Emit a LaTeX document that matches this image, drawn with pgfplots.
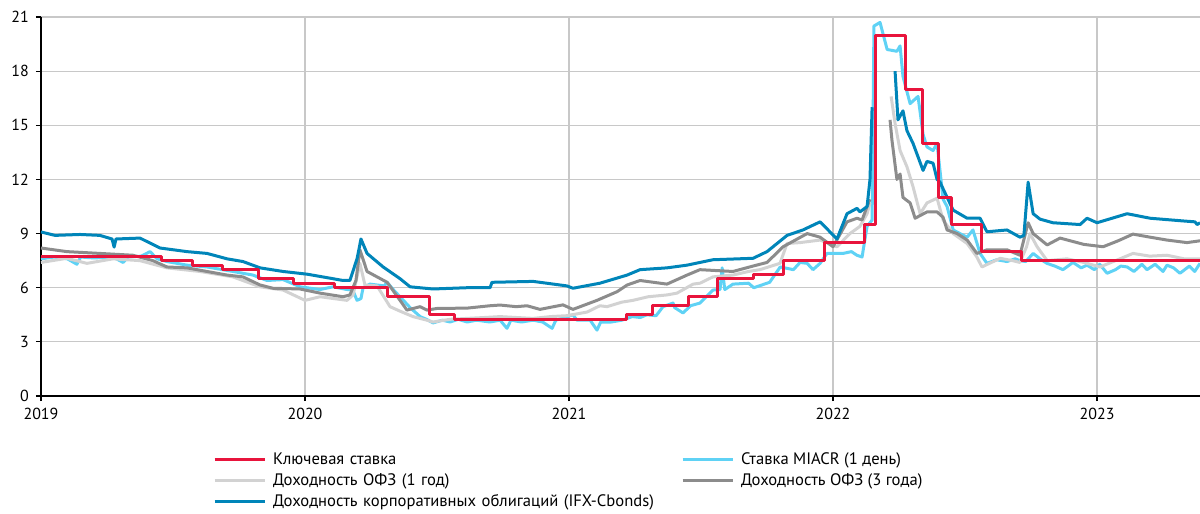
\documentclass[border=0pt]{standalone}
\usepackage{pgfplots}
\pgfplotsset{compat=1.18}
\usepackage{fontspec}
\setmainfont{PT Sans}
\definecolor{keyred}{RGB}{232,20,60}
\definecolor{miacr}{RGB}{95,210,245}
\definecolor{ofzone}{RGB}{210,210,210}
\definecolor{ofzthree}{RGB}{140,140,140}
\definecolor{corp}{RGB}{0,133,185}
\definecolor{gridgray}{RGB}{200,200,200}

\begin{document}
\begin{tikzpicture}
\begin{axis}[
  scale only axis, width=579.5pt, height=189.5pt,
  xmin=0, xmax=4.39, ymin=0, ymax=21,
  xtick={0,1,2,3,4}, xticklabels={2019,2020,2021,2022,2023},
  ytick={0,3,...,21},
  axis lines*=left, axis line style={line width=0.75pt},
  grid=major, grid style={gridgray, line width=0.6pt},
  tick align=outside, major tick length=2.5pt,
  tick style={black, line width=0.6pt},
  tick label style={font=\fontsize{8}{9}\selectfont},
  /pgf/number format/assume math mode=true,
  unbounded coords=jump,
  every axis plot/.append style={line width=1.5pt, line join=round},
  legend columns=2,
  legend cell align=left,
  legend image code/.code={\draw[#1] (0pt,0pt) -- (25pt,0pt);},
  legend style={draw=none, fill=none, at={(0,0)}, anchor=north west,
    xshift=86pt, yshift=-28pt, inner sep=0pt, outer sep=0pt,
    font=\fontsize{8.3}{9}\selectfont, row sep=3pt, column sep=3.5pt,
    nodes={inner sep=0pt, text height=6pt, text depth=1.5pt},
    /tikz/column 2/.style={nodes={text width=200.5pt}}},
]
\addlegendimage{keyred, line width=1.5pt}
\addlegendentry{Ключевая ставка}
\addlegendimage{miacr, line width=1.5pt}
\addlegendentry{Ставка MIACR (1 день)}
\addlegendimage{ofzone, line width=1.5pt}
\addlegendentry{Доходность ОФЗ (1 год)}
\addlegendimage{ofzthree, line width=1.5pt}
\addlegendentry{Доходность ОФЗ (3 года)}
\addlegendimage{corp, line width=1.5pt}
\addlegendentry{Доходность корпоративных облигаций (IFX-Cbonds)}

% MIACR
\addplot[miacr, forget plot] coordinates {
(0,7.6) (0.05,7.7) (0.1,7.6) (0.136,7.3) (0.15,7.7) (0.2,7.65) (0.273,7.7)
(0.311,7.4) (0.33,7.7) (0.38,7.75) (0.413,8.0) (0.44,7.6) (0.477,7.45)
(0.553,7.25) (0.629,7.15) (0.727,6.9) (0.803,6.7) (0.856,6.4) (0.917,6.45)
(0.981,6.05) (1.057,5.9) (1.106,6.05) (1.159,5.9) (1.18,5.9) (1.197,5.3)
(1.212,5.4) (1.220,6.0) (1.246,6.2) (1.30,6.1) (1.311,6.3) (1.34,5.8)
(1.360,5.5) (1.398,4.9) (1.436,4.4) (1.46,4.25) (1.485,4.05) (1.52,4.2)
(1.55,4.1) (1.58,4.25) (1.614,4.1) (1.65,4.2) (1.70,4.1) (1.739,4.2)
(1.765,3.75) (1.78,4.2) (1.82,4.1) (1.864,4.2) (1.90,4.1) (1.936,3.75)
(1.95,4.2) (2.015,4.5) (2.03,4.2) (2.08,4.2) (2.106,3.65) (2.12,4.1)
(2.16,4.1) (2.20,4.2) (2.24,4.4) (2.27,4.35) (2.295,4.5) (2.33,4.45)
(2.356,4.95) (2.394,5.15) (2.40,4.9) (2.432,4.6) (2.46,5.0) (2.496,5.15)
(2.545,5.87) (2.572,5.9) (2.580,7.1) (2.59,5.9) (2.621,6.2) (2.68,6.25)
(2.70,6.0) (2.76,6.3) (2.80,7.15) (2.85,7.0) (2.875,7.4) (2.902,7.35)
(2.924,7.0) (2.951,7.35) (2.977,7.9) (3.038,7.9) (3.07,8.0) (3.09,7.8)
(3.110,7.7) (3.129,9.4) (3.148,9.75) (3.155,20.5) (3.178,20.7) (3.205,19.2)
(3.242,19.1) (3.254,19.4) (3.265,17.7) (3.292,16.2) (3.322,16.6) (3.341,14.5)
(3.356,13.8) (3.379,13.6) (3.394,14.0) (3.417,10.9) (3.432,10.5) (3.455,9.2)
(3.481,9.0) (3.508,8.8) (3.530,9.2) (3.557,7.9) (3.583,7.35) (3.62,7.55)
(3.659,7.45) (3.69,7.6) (3.708,7.5) (3.73,7.45) (3.758,7.9) (3.784,7.6)
(3.81,7.35) (3.84,7.2) (3.871,7.0) (3.89,7.2) (3.909,7.4) (3.94,7.1)
(3.962,7.25) (3.99,7.0) (4.01,7.3) (4.038,6.8) (4.07,7.0) (4.09,7.2)
(4.114,7.15) (4.14,6.9) (4.17,7.3) (4.189,7.0) (4.22,7.3) (4.25,6.9)
(4.265,7.25) (4.29,7.1) (4.314,6.8) (4.35,7.2) (4.37,6.9) (4.39,7.35)
};
% OFZ 1 year
\addplot[ofzone, forget plot] coordinates {
(0,7.4) (0.098,7.63) (0.174,7.35) (0.273,7.6) (0.375,7.5) (0.413,7.35)
(0.477,7.1) (0.602,6.9) (0.727,6.6) (0.830,6.05) (0.917,5.87) (1.000,5.3)
(1.057,5.5) (1.159,5.3) (1.182,5.6) (1.208,7.35) (1.227,6.15) (1.273,6.1)
(1.322,4.95) (1.36,4.7) (1.409,4.4) (1.462,4.2) (1.485,4.1) (1.55,4.25)
(1.614,4.3) (1.68,4.35) (1.739,4.4) (1.80,4.35) (1.864,4.3) (1.93,4.4)
(1.992,4.45) (2.068,4.65) (2.117,5.0) (2.144,4.95) (2.20,5.2) (2.242,5.3)
(2.30,5.5) (2.371,5.6) (2.409,5.7) (2.47,6.2) (2.496,6.25) (2.545,6.6)
(2.621,6.7) (2.68,6.9) (2.723,7.0) (2.799,7.35) (2.826,8.45) (2.875,8.5)
(2.951,8.64) (3.015,8.27) (3.064,9.0) (3.102,9.4) (3.129,10.1) (3.140,10.7)
(3.148,nan) (3.220,16.6) (3.235,15.1) (3.254,13.6) (3.280,12.7) (3.303,11.6)
(3.330,10.1) (3.356,10.7) (3.394,10.96) (3.417,9.75) (3.455,9.0) (3.508,8.45)
(3.545,7.7) (3.564,7.15) (3.60,7.4) (3.633,7.63) (3.68,7.5) (3.708,7.4)
(3.733,8.27) (3.746,9.0) (3.773,8.27) (3.811,7.5) (3.886,7.6) (3.95,7.4)
(4.011,7.15) (4.07,7.5) (4.136,7.9) (4.20,7.75) (4.265,7.8) (4.33,7.6)
(4.39,7.6)
};
% OFZ 3 years
\addplot[ofzthree, forget plot] coordinates {
(0,8.2) (0.098,8.0) (0.223,7.9) (0.348,7.8) (0.424,7.5) (0.477,7.15)
(0.553,7.1) (0.629,6.9) (0.705,6.7) (0.765,6.6) (0.830,6.15) (0.879,5.97)
(0.981,5.93) (1.057,5.7) (1.144,5.5) (1.170,5.6) (1.193,6.4) (1.208,8.1)
(1.235,6.9) (1.311,6.3) (1.360,5.3) (1.386,4.76) (1.436,4.95) (1.462,4.76)
(1.50,4.85) (1.614,4.87) (1.70,5.0) (1.739,5.04) (1.80,4.95) (1.841,5.0)
(1.890,4.8) (1.977,5.05) (2.015,4.8) (2.106,5.3) (2.182,5.78) (2.220,6.15)
(2.269,6.4) (2.371,6.2) (2.447,6.7) (2.496,7.0) (2.621,6.9) (2.697,7.2)
(2.750,7.4) (2.811,8.27) (2.902,9.0) (2.951,8.8) (3.000,8.27) (3.053,9.65)
(3.091,9.85) (3.110,9.75) (3.129,10.5) (3.140,10.9) (3.148,nan) (3.216,15.3)
(3.223,14.2) (3.242,12.0) (3.254,12.3) (3.265,11.0) (3.292,10.7) (3.311,9.85)
(3.356,10.2) (3.394,10.2) (3.417,9.9) (3.432,9.2) (3.470,9.0) (3.508,8.64)
(3.545,7.9) (3.583,8.1) (3.659,8.1) (3.708,7.8) (3.739,9.6) (3.758,9.0)
(3.811,8.37) (3.860,8.75) (3.95,8.4) (4.023,8.27) (4.080,8.6) (4.136,8.97)
(4.201,8.8) (4.265,8.64) (4.341,8.5) (4.39,8.6)
};
% corporate bonds
\addplot[corp, forget plot] coordinates {
(0,9.09) (0.053,8.9) (0.148,8.95) (0.223,8.9) (0.269,8.7) (0.277,8.25)
(0.284,8.7) (0.375,8.75) (0.451,8.2) (0.553,8.0) (0.629,7.9) (0.705,7.6)
(0.765,7.45) (0.830,7.1) (0.917,6.9) (1.008,6.75) (1.106,6.5) (1.144,6.4)
(1.170,6.4) (1.197,7.6) (1.212,8.7) (1.235,7.9) (1.296,7.15) (1.360,6.5)
(1.398,6.05) (1.485,5.93) (1.614,6.0) (1.701,6.0) (1.708,6.3) (1.864,6.35)
(1.992,6.1) (2.015,5.97) (2.117,6.25) (2.220,6.7) (2.269,7.0) (2.371,7.1)
(2.447,7.25) (2.545,7.55) (2.697,7.63) (2.750,8.0) (2.826,8.9) (2.886,9.2)
(2.951,9.65) (3.015,8.7) (3.053,10.1) (3.091,10.4) (3.102,10.2) (3.129,10.5)
(3.140,12.0) (3.148,16.0) (3.152,nan) (3.235,18.0) (3.246,15.3) (3.265,15.8)
(3.280,14.7) (3.303,14.0) (3.341,12.5) (3.356,13.0) (3.379,12.9) (3.394,12.0)
(3.405,11.85) (3.455,10.3) (3.508,9.85) (3.557,9.85) (3.583,9.1) (3.659,9.2)
(3.708,8.8) (3.723,8.9) (3.739,11.85) (3.758,10.1) (3.784,9.8) (3.833,9.6)
(3.936,9.5) (3.962,9.85) (4.00,9.6) (4.114,10.1) (4.201,9.85) (4.326,9.7)
(4.371,9.65) (4.379,9.5) (4.39,9.6)
};
% key rate
\addplot[keyred, const plot, forget plot] coordinates {
(0,7.75) (0.458,7.5) (0.573,7.25) (0.688,7.0) (0.822,6.5) (0.956,6.25)
(1.110,6.0) (1.314,5.5) (1.473,4.5) (1.568,4.25) (2.219,4.5) (2.315,5.0)
(2.452,5.5) (2.564,6.5) (2.699,6.75) (2.814,7.5) (2.967,8.5) (3.121,9.5)
(3.159,20.0) (3.274,17.0) (3.337,14.0) (3.400,11.0) (3.450,9.5) (3.562,8.0)
(3.715,7.5) (4.39,7.5)
};
\end{axis}
\pgfresetboundingbox
\path ([xshift=-20.5pt,yshift=-59pt]current axis.south west) rectangle ([yshift=8.5pt]current axis.north east);
\end{tikzpicture}
\end{document}
